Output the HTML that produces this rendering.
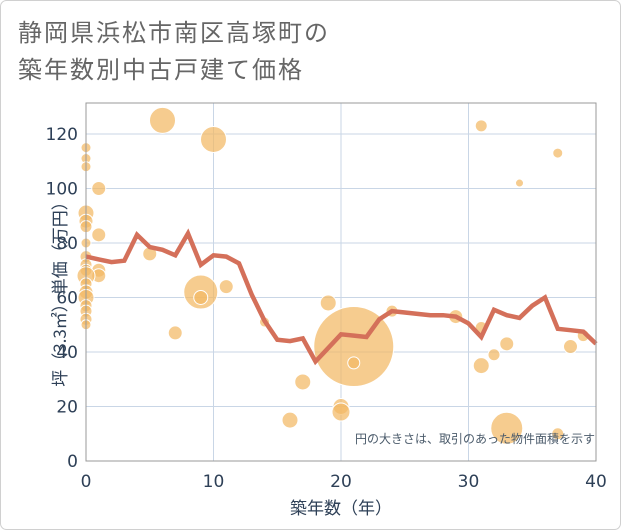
<!DOCTYPE html>
<html><head><meta charset="utf-8"><style>
body{margin:0;background:#fff;}
svg{display:block;font-family:"Liberation Sans","Noto Sans CJK JP",sans-serif;}
</style></head><body>
<svg id="c" width="621" height="530">
<rect x="0.5" y="0.5" width="620" height="529" rx="6" fill="#fff" stroke="#d0d0d0"/>
<text x="18" y="41" font-size="24" letter-spacing="2" fill="#666" font-family="Noto Sans CJK JP, sans-serif">静岡県浜松市南区高塚町の</text>
<text x="18" y="78" font-size="24" letter-spacing="2" fill="#666" font-family="Noto Sans CJK JP, sans-serif">築年数別中古戸建て価格</text>
<g id="grid"></g><g id="bubbles"></g><g id="line"></g><g id="axes"></g>
<text x="595" y="443" font-size="12" fill="#4a5a6a" text-anchor="end">円の大きさは、取引のあった物件面積を示す</text>
<text x="341" y="514" font-size="17" fill="#2e4057" text-anchor="middle" font-family="Noto Sans CJK JP, sans-serif">築年数（年）</text>
<text transform="translate(66,290) rotate(-90)" font-size="17" fill="#2e4057" text-anchor="middle" font-family="Noto Sans CJK JP, sans-serif">坪（3.3㎡）単価（万円）</text>
</svg>
<script>
const xTicks=[0,10,20,30,40];
const yTicks=[0,20,40,60,80,100,120];
const lineYears=[0,1,2,3,4,5,6,7,8,9,10,11,12,13,14,15,16,17,18,19,20,21,22,23,24,25,26,27,28,29,30,31,32,33,34,35,36,37,38,39,40];
const lineValues=[75,74,73,73.5,83,78.5,77.5,75.5,83.5,72,75.5,75,72.5,61,51.5,44.5,44,45,36.5,41.5,46.5,46,45.5,52,55,54.5,54,53.5,53.5,53,50.5,45.5,55.5,53.5,52.5,57,60,48.5,48,47.5,43];
const bubbleX=[0,0,0,1,0,0,0,1,0,0,5,0,0,1,1,0,0,0,0,0,0,0,0,6,10,9,9,11,7,14,16,17,19,20,20,21,21,24,29,31,31,31,32,33,33,34,37,37,38,39];
const bubbleY=[115,111,108,100,91,88,86,83,80,75,76,72,70,70,68,68,65,62,60,57,55,52,50,125,118,62,60,64,47,51,15,29,58,20,18,42,36,55,53,123,49,35,39,43,12,102,113,10,42,46];
const bubbleR=[5,5,5,7,8,7,6,7,5,6,7,6,6,7,7,9,6,7,8,6,6,6,5,13,13,17,7,7,7,5,8,8,8,8,9,40,6,6,7,6,6,8,6,7,16,4,5,6,7,6];
const NS='http://www.w3.org/2000/svg';
const L=86,R=596,T=103,B=461;
const xs=v=>L+(v-0)/40*(R-L);
const ys=v=>B-v/120*(B-134);
function mk(tag,attrs,parent){const e=document.createElementNS(NS,tag);for(const k in attrs)e.setAttribute(k,attrs[k]);parent.appendChild(e);return e;}
const grid=document.getElementById('grid'),axes=document.getElementById('axes');
yTicks.forEach(t=>{const g=mk('line',{x1:L,x2:R,y1:ys(t),y2:ys(t),stroke:'#c9d6e6','stroke-width':1},grid);

const tx=mk('text',{x:L-8,y:ys(t)+6,'font-size':17,fill:'#2e4057','text-anchor':'end','font-family':'DejaVu Sans, sans-serif'},axes);tx.textContent=t;
});
xTicks.forEach(t=>{const g=mk('line',{x1:xs(t),x2:xs(t),y1:T,y2:B,stroke:'#c9d6e6','stroke-width':1},grid);

const tx=mk('text',{x:xs(t),y:B+26,'font-size':17,fill:'#2e4057','text-anchor':'middle','font-family':'DejaVu Sans, sans-serif'},axes);tx.textContent=t;
});
const fr=mk('rect',{x:L,y:T,width:R-L,height:B-T,fill:'none',stroke:'#999','stroke-width':1},axes);

const bg=document.getElementById('bubbles');
bubbleX.forEach((x,i)=>{const c=mk('circle',{cx:xs(x),cy:ys(bubbleY[i]),r:bubbleR[i],fill:'rgba(242,185,100,0.72)',stroke:'#fff','stroke-width':1},bg);
});
const p=lineYears.map((x,i)=>(i?'L':'M')+xs(x).toFixed(1)+','+ys(lineValues[i]).toFixed(1)).join('');
const pl=mk('path',{d:p,fill:'none',stroke:'#d4705a','stroke-width':4.5,'stroke-linejoin':'miter'},document.getElementById('line'));

</script>
</body></html>
